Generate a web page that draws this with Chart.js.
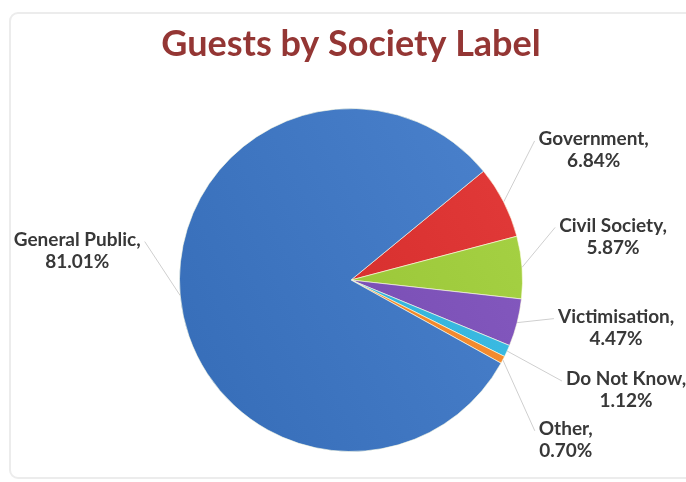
<!DOCTYPE html>
<html>
<head>
<meta charset="utf-8">
<script src="https://cdn.jsdelivr.net/npm/chart.js@4.4.0/dist/chart.umd.min.js"></script>
<style>
    body { margin: 0; background: #ffffff; }
    #wrap { position: relative; width: 686px; height: 482px; overflow: hidden; }
    #frame {
        position: absolute; left: 9px; top: 12px; width: 700px; height: 463px;
        border: 2px solid #ececec; border-radius: 9px;
    }
    #societyChart { position: absolute; left: 0; top: 0; }
</style>
</head>
<body>
<div id="wrap">
    <div id="frame"></div>
    <canvas id="societyChart" width="686" height="482"></canvas>
</div>
<script>
// data
const categories = ['Government', 'Civil Society', 'Victimisation', 'Do Not Know', 'Other', 'General Public'];
const shares = [6.84, 5.87, 4.47, 1.12, 0.70, 81.01];
const sliceColours = ['#d8302f', '#9cc83a', '#7b50b6', '#34b4dc', '#f0862a', '#4077c2'];

// where each label sits, relative to the edge of its slice (x, y)
const labelOffsets = [[90, -52], [91, -31], [99, 5], [119, 39], [63, 80], [-103, -45]];

function shade(hex, amt) {
    const n = parseInt(hex.slice(1), 16);
    let r = (n >> 16) + amt, g = ((n >> 8) & 255) + amt, b = (n & 255) + amt;
    r = Math.max(0, Math.min(255, r));
    g = Math.max(0, Math.min(255, g));
    b = Math.max(0, Math.min(255, b));
    return 'rgb(' + r + ',' + g + ',' + b + ')';
}

function sliceFill(context) {
    const chart = context.chart;
    const area = chart.chartArea;
    const base = sliceColours[context.dataIndex];
    if (!area) return base;
    const grad = chart.ctx.createLinearGradient(area.right, area.top, area.left, area.bottom);
    grad.addColorStop(0, shade(base, 18));
    grad.addColorStop(0.5, base);
    grad.addColorStop(1, shade(base, -18));
    return grad;
}

// data labels with leader lines
const sliceLabels = {
    id: 'sliceLabels',
    afterDatasetsDraw(chart) {
        const ctx = chart.ctx;
        const meta = chart.getDatasetMeta(0);
        ctx.save();
        ctx.font = 'bold 19px Lato';
        ctx.textAlign = 'center';
        ctx.textBaseline = 'middle';
        meta.data.forEach(function(arc, i) {
            const p = arc.getProps(['x', 'y', 'startAngle', 'endAngle', 'outerRadius'], true);
            const mid = (p.startAngle + p.endAngle) / 2;
            const ex = p.x + Math.cos(mid) * p.outerRadius;
            const ey = p.y + Math.sin(mid) * p.outerRadius;
            const cx = ex + labelOffsets[i][0];
            const cy = ey + labelOffsets[i][1];
            const line1 = categories[i] + ',';
            const line2 = shares[i].toFixed(2) + '%';
            const w = Math.max(ctx.measureText(line1).width, ctx.measureText(line2).width);
            const y1 = cy - 11;
            const y2 = cy + 11;

            // leader line
            const lx = labelOffsets[i][0] > 0 ? cx - w / 2 - 4 : cx + w / 2 + 4;
            ctx.strokeStyle = '#cfcfcf';
            ctx.lineWidth = 1;
            ctx.beginPath();
            ctx.moveTo(ex, ey);
            ctx.lineTo(lx, y1 + 2);
            ctx.stroke();

            ctx.fillStyle = '#383838';
            ctx.fillText(line1, cx, y1);
            ctx.fillText(line2, cx, y2);
        });
        ctx.restore();
    }
};

const societyChart = new Chart(document.getElementById('societyChart'), {
    type: 'pie',
    data: {
        labels: categories,
        datasets: [{
            data: shares,
            backgroundColor: sliceFill,
            borderColor: 'rgba(255,255,230,0.6)',
            borderWidth: 1
        }]
    },
    options: {
        responsive: false,
        animation: false,
        rotation: 50.6,
        layout: { padding: { left: 16, right: 0, top: 0, bottom: 30 } },
        plugins: {
            legend: { display: false },
            tooltip: { enabled: false },
            title: {
                display: true,
                text: 'Guests by Society Label',
                color: '#943634',
                font: { family: 'Lato', size: 36, weight: 'bold', lineHeight: 1.2 },
                padding: { top: 23, bottom: 41.8 }
            }
        }
    },
    plugins: [sliceLabels]
});
</script>
</body>
</html>
